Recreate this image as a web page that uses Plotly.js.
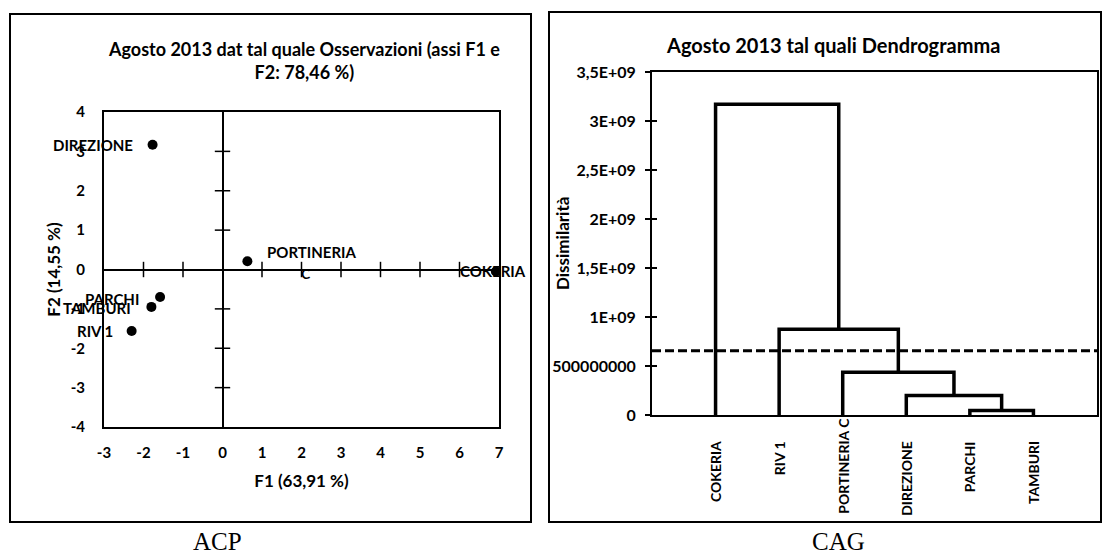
<!DOCTYPE html>
<html><head><meta charset="utf-8">
<script src="https://cdn.plot.ly/plotly-3.0.1.min.js"></script>
<style>html,body{margin:0;padding:0;background:#fff;}#chart{width:1102px;height:556px;}</style>
</head><body><div id="chart"></div>
<script>
// ---------- ACP (left) data ----------
const acpNames = ['DIREZIONE', 'PORTINERIA', 'COKERIA', 'PARCHI', 'TAMBURI', 'RIV 1'];
const acpF1 = [-1.77, 0.63, 6.92, -1.58, -1.80, -2.30];
const acpF2 = [3.17, 0.21, -0.05, -0.70, -0.95, -1.56];
const acpXTicks = [-3, -2, -1, 0, 1, 2, 3, 4, 5, 6, 7];
const acpYTicks = [-4, -3, -2, -1, 0, 1, 2, 3, 4];
const acpCrossX = [-2, -1, 1, 2, 3, 4, 5, 6];
const acpCrossY = [-3, -2, -1, 1, 2, 3];
const acpExtraText = ['C'];
const acpExtraX = [2.12];
const acpExtraY = [-0.1];

// ---------- CAG (right) data ----------
const cagLeaves = ['COKERIA', 'RIV 1', 'PORTINERIA C', 'DIREZIONE', 'PARCHI', 'TAMBURI'];
const cagMergeLeft = [4, 3, 2, 1, 0];     // index of leaf / node (nodes numbered after leaves)
const cagMergeRight = [5, 6, 7, 8, 9];
const cagMergeHeight = [45000000, 200000000, 435000000, 875000000, 3170000000];
const cagCutLevel = [655000000];
const cagYTickVals = [0, 500000000, 1000000000, 1500000000, 2000000000, 2500000000, 3000000000, 3500000000];
const cagYTickText = ['0', '500000000', '1E+09', '1,5E+09', '2E+09', '2,5E+09', '3E+09', '3,5E+09'];

// ---------- styles / layout helpers ----------
const W = 1102, H = 556;
const px = v => v / W, py = v => 1 - v / H;
const FONT = 'Lato, "Open Sans", sans-serif';
const SERIF = '"Liberation Serif", "Times New Roman", serif';
const bold = (s, c) => ({family: FONT, size: s, color: c || '#000', weight: 'bold'});
const labelPlace = {
  'DIREZIONE': {xanchor: 'right', xshift: -18, yshift: 0},
  'PORTINERIA': {xanchor: 'left', xshift: 18, yshift: 9},
  'COKERIA': {xanchor: 'center', xshift: -3, yshift: 0},
  'PARCHI': {xanchor: 'right', xshift: -19, yshift: -2},
  'TAMBURI': {xanchor: 'right', xshift: -18, yshift: -1},
  'RIV 1': {xanchor: 'right', xshift: -17, yshift: 0}
};
const leafLabelShift = {'PORTINERIA C': 23};

// dendrogram geometry from merges
const nodeX = [], nodeH = [];
cagLeaves.forEach((n, i) => { nodeX[i] = i + 1; nodeH[i] = 0; });
const dX = [], dY = [];
cagMergeLeft.forEach((a, k) => {
  const b = cagMergeRight[k], h = cagMergeHeight[k], id = cagLeaves.length + k;
  dX.push(nodeX[a], nodeX[a], nodeX[b], nodeX[b], null);
  dY.push(nodeH[a], h, h, nodeH[b], null);
  nodeX[id] = (nodeX[a] + nodeX[b]) / 2; nodeH[id] = h;
});
const leafX = cagLeaves.map((n, i) => nodeX[i]);

const traces = [
  {x: acpCrossX, y: acpCrossX.map(() => 0), xaxis: 'x', yaxis: 'y', mode: 'markers', hoverinfo: 'skip', showlegend: false,
   marker: {symbol: 'line-ns', size: 11, color: '#000', line: {color: '#000', width: 1.5}}},
  {x: acpCrossY.map(() => 0), y: acpCrossY, xaxis: 'x', yaxis: 'y', mode: 'markers', hoverinfo: 'skip', showlegend: false,
   marker: {symbol: 'line-ew', size: 11, color: '#000', line: {color: '#000', width: 1.5}}},
  {x: acpF1, y: acpF2, text: acpNames, xaxis: 'x', yaxis: 'y', mode: 'markers', hoverinfo: 'text', showlegend: false,
   cliponaxis: false, marker: {symbol: 'circle', size: 10, color: '#000'}},
  {x: dX, y: dY, xaxis: 'x2', yaxis: 'y2', mode: 'lines', hoverinfo: 'skip', showlegend: false,
   line: {color: '#000', width: 3.5}},
  {x: [], y: [], xaxis: 'x2', yaxis: 'y3', mode: 'markers', showlegend: false, hoverinfo: 'skip'}
];

const annotations = [];
acpNames.forEach((n, i) => {
  const p = labelPlace[n];
  annotations.push({xref: 'x', yref: 'y', x: acpF1[i], y: acpF2[i], text: n, showarrow: false,
    xanchor: p.xanchor, yanchor: 'middle', xshift: p.xshift, yshift: p.yshift, font: bold(15)});
});
acpExtraText.forEach((t, i) => annotations.push({xref: 'x', yref: 'y', x: acpExtraX[i], y: acpExtraY[i], text: t,
  showarrow: false, xanchor: 'center', font: bold(14)}));
cagLeaves.forEach((n, i) => annotations.push({xref: 'x2', yref: 'paper', x: leafX[i], y: py(439),
  yanchor: 'top', xanchor: 'center', textangle: -90, text: n, showarrow: false,
  yshift: leafLabelShift[n] || 0, font: bold(14)}));
annotations.push({xref: 'paper', yref: 'paper', x: px(304), y: py(60), xanchor: 'center', yanchor: 'middle',
  text: 'Agosto 2013 dat tal quale Osservazioni (assi F1 e<br>F2: 78,46 %)', showarrow: false, font: bold(18)});
annotations.push({xref: 'paper', yref: 'paper', x: px(833), y: py(45), xanchor: 'center', yanchor: 'middle',
  text: 'Agosto 2013 tal quali Dendrogramma', showarrow: false, font: bold(20)});
annotations.push({xref: 'paper', yref: 'paper', x: px(563), y: py(243), xanchor: 'center', yanchor: 'middle',
  textangle: -90, text: 'Dissimilarità', showarrow: false, font: bold(17)});
annotations.push({xref: 'paper', yref: 'paper', x: px(217), y: 0, xanchor: 'center', yanchor: 'bottom', borderpad: 0,
  text: 'ACP', showarrow: false, font: {family: SERIF, size: 25, color: '#000'}});
annotations.push({xref: 'paper', yref: 'paper', x: px(838), y: 0, xanchor: 'center', yanchor: 'bottom', borderpad: 0,
  text: 'CAG', showarrow: false, font: {family: SERIF, size: 25, color: '#000'}});

const shapes = [
  {type: 'rect', xref: 'paper', yref: 'paper', x0: px(10), x1: px(531), y0: py(522), y1: py(14), line: {color: '#000', width: 2}},
  {type: 'rect', xref: 'paper', yref: 'paper', x0: px(549), x1: px(1101), y0: py(522), y1: py(12), line: {color: '#000', width: 2}},
  {type: 'line', xref: 'x2 domain', yref: 'y2', x0: 0, x1: 1, y0: cagCutLevel[0], y1: cagCutLevel[0],
   line: {color: '#000', width: 3, dash: '9px,4px'}}
];

const layout = {
  width: W, height: H, margin: {l: 0, r: 0, t: 0, b: 0, pad: 0},
  paper_bgcolor: '#fff', plot_bgcolor: '#fff', showlegend: false, hovermode: 'closest',
  font: {family: FONT, color: '#000'},
  xaxis: {domain: [px(104), px(499)], anchor: 'y', range: [-3, 7], tickvals: acpXTicks, ticktext: acpXTicks.map(String),
    ticks: '', showgrid: false, zeroline: true, zerolinecolor: '#000', zerolinewidth: 2,
    showline: true, mirror: true, linecolor: '#000', linewidth: 2, ticklabelstandoff: 11, tickfont: bold(15),
    title: {text: 'F1 (63,91 %)', font: bold(17), standoff: 15}},
  yaxis: {domain: [py(427), py(112)], anchor: 'x', range: [-4, 4], tickvals: acpYTicks, ticktext: acpYTicks.map(String),
    ticks: '', showgrid: false, zeroline: true, zerolinecolor: '#000', zerolinewidth: 2,
    showline: true, mirror: true, linecolor: '#000', linewidth: 2, ticklabelstandoff: 14, tickfont: bold(15),
    title: {text: 'F2 (14,55 %)', font: bold(17), standoff: 6}},
  xaxis2: {domain: [px(652), px(1097)], anchor: 'y2', range: [0, 7], showticklabels: false, ticks: '',
    showgrid: false, zeroline: false, showline: true, mirror: true, linecolor: '#000', linewidth: 2},
  yaxis2: {domain: [py(415), py(72)], anchor: 'x2', range: [0, 3500000000], tickvals: cagYTickVals, ticktext: cagYTickText,
    ticks: 'outside', ticklen: 5, tickwidth: 1.5, tickcolor: '#000', showgrid: false, zeroline: false,
    showline: true, mirror: true, linecolor: '#000', linewidth: 2, ticklabelstandoff: 6, tickfont: bold(16)},
  yaxis3: {overlaying: 'y2', anchor: 'x2', side: 'left', range: [0, 3500000000], tickvals: cagYTickVals,
    showticklabels: false, ticks: 'inside', ticklen: 5, tickwidth: 1.5, tickcolor: '#000',
    showgrid: false, zeroline: false, showline: false},
  annotations: annotations, shapes: shapes
};

Plotly.newPlot('chart', traces, layout, {staticPlot: true, displayModeBar: false});
</script></body></html>
